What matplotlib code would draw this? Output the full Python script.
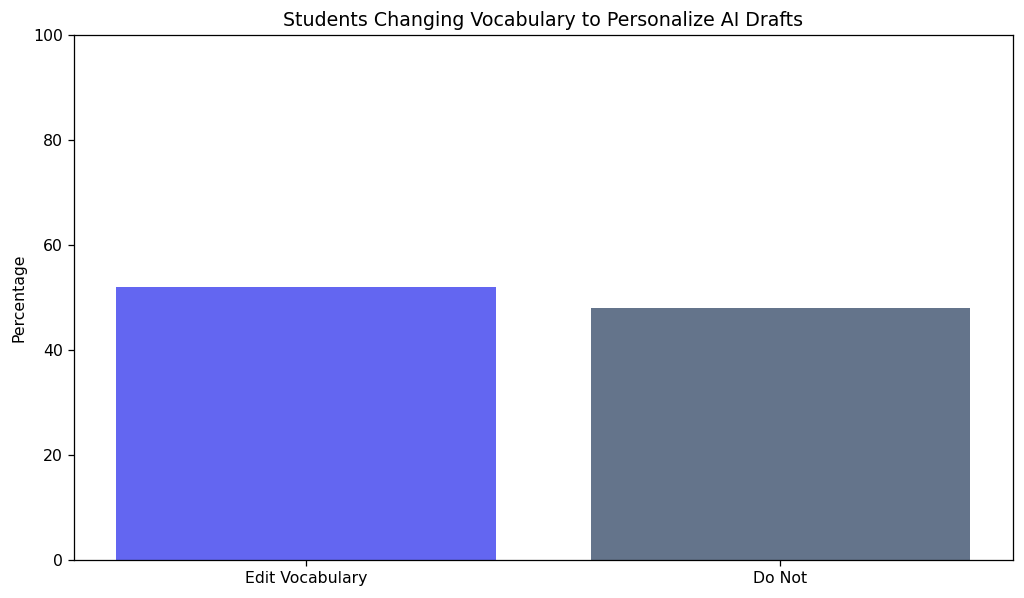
import matplotlib
matplotlib.use("Agg")
import matplotlib.pyplot as plt

# data
categories = ["Edit Vocabulary", "Do Not"]
percentages = [52, 48]
bar_colors = ["#6366f1", "#64748b"]

dpi = 1024 / 9
fig, ax = plt.subplots(figsize=(9, 598 / dpi), dpi=dpi)
fig.subplots_adjust(left=0.072, right=0.989, top=0.941, bottom=0.064)

ax.bar(categories, percentages, color=bar_colors)
ax.set_ylim(0, 100)
ax.set_ylabel("Percentage")
ax.set_title("Students Changing Vocabulary to Personalize AI Drafts")

fig.savefig("out.png", dpi=dpi)
